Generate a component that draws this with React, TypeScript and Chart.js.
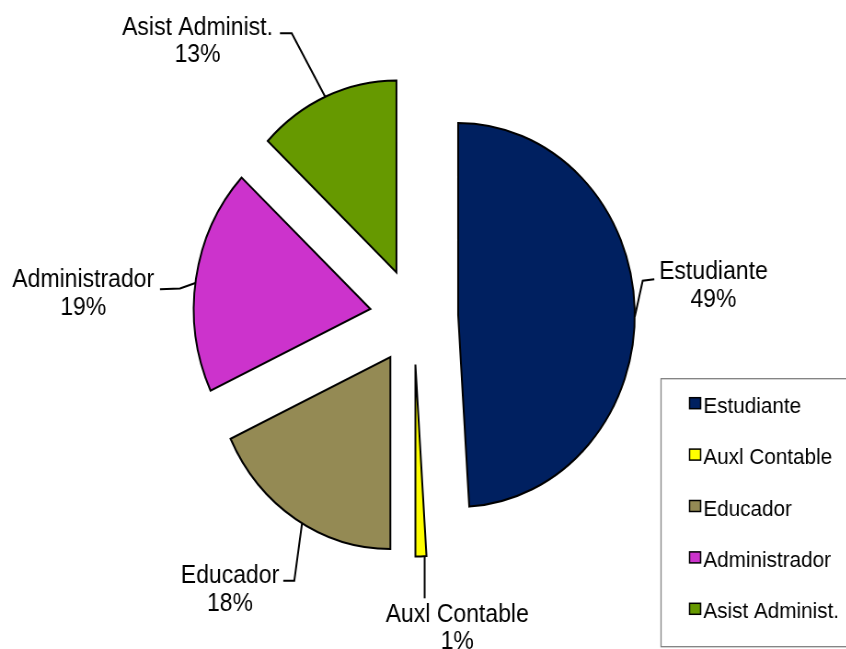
import React, { useEffect, useRef } from "react";
import { Chart, registerables } from "chart.js";

Chart.register(...registerables);

// ---------- data ----------
const categories = ["Estudiante", "Auxl Contable", "Educador", "Administrador", "Asist Administ."];
const shares = [49, 1, 18, 19, 13];
const sliceColors = ["#002060", "#FFFF00", "#948A54", "#CC33CC", "#669900"];

// ---------- styling / layout ----------
const SCALE_X = 0.92; // original picture is horizontally compressed
const CANVAS_W = 920;
const CANVAS_H = 649;
const RADIUS = 192;
const EXPLODE = 48;
const FONT = '"Liberation Sans", Arial, sans-serif';
const LABEL_FONT_SIZE = 25;
const LABEL_LINE = 27.5;
const LEGEND_FONT_SIZE = 22.5;

// leader-line layout for each slice label: angle on the arc (deg, clockwise from 12 o'clock)
// and offsets relative to that arc point
const leaderAngles = [90.5, 177, 210, 277.8, 336.2];
const leaderElbows = [[8.6, -36], [0, 42], [-8.4, 57.4], [-16.7, 5.6], [-36.4, -63.5]];
const leaderEnds = [[21.2, -37.4], [0, 42.1], [-20.4, 57.4], [-38.5, 6.4], [-49.2, -63.5]];
const labelOffsets = [[85.5, -37.4], [35.4, 65.5], [-78.3, 60], [-121.9, 4.4], [-138.8, -61.8]];

const explodePlugin = {
  id: "explodeSlices",
  afterDatasetUpdate(chart: any, args: any) {
    const area = chart.chartArea;
    const cx = (area.left + area.right) / 2;
    const cy = (area.top + area.bottom) / 2;
    const meta = chart.getDatasetMeta(args.index);
    meta.data.forEach((el: any) => {
      const mid = (el.startAngle + el.endAngle) / 2;
      el.x = cx + Math.cos(mid) * EXPLODE;
      el.y = cy + Math.sin(mid) * EXPLODE;
    });
  },
};

const labelPlugin = {
  id: "sliceLabels",
  afterDatasetsDraw(chart: any) {
    const ctx = chart.ctx;
    const meta = chart.getDatasetMeta(0);
    const data = chart.data.datasets[0].data as number[];
    const total = data.reduce((a, b) => a + b, 0);
    ctx.save();
    meta.data.forEach((el: any, i: number) => {
      const theta = ((leaderAngles[i] - 90) * Math.PI) / 180;
      const px = el.x + Math.cos(theta) * el.outerRadius;
      const py = el.y + Math.sin(theta) * el.outerRadius;
      ctx.strokeStyle = "#000";
      ctx.lineWidth = 2;
      ctx.lineJoin = "miter";
      ctx.beginPath();
      ctx.moveTo(px, py);
      ctx.lineTo(px + leaderElbows[i][0], py + leaderElbows[i][1]);
      ctx.lineTo(px + leaderEnds[i][0], py + leaderEnds[i][1]);
      ctx.stroke();
      const tx = px + labelOffsets[i][0];
      const ty = py + labelOffsets[i][1];
      ctx.fillStyle = "#000";
      ctx.font = `${LABEL_FONT_SIZE}px ${FONT}`;
      ctx.textAlign = "center";
      ctx.textBaseline = "alphabetic";
      ctx.fillText(chart.data.labels[i], tx, ty);
      const pct = Math.round((data[i] / total) * 100);
      ctx.fillText(`${pct}%`, tx, ty + LABEL_LINE);
    });
    ctx.restore();
  },
};

const legendPlugin = {
  id: "boxLegend",
  afterDraw(chart: any) {
    const ctx = chart.ctx;
    const boxLeft = 718.5;
    const boxTop = 378.7;
    const boxBottom = 646.7;
    const firstBaseline = 412.7;
    const step = 51.4;
    ctx.save();
    ctx.strokeStyle = "#7f7f7f";
    ctx.lineWidth = 1.3;
    ctx.strokeRect(boxLeft, boxTop, CANVAS_W + 20 - boxLeft, boxBottom - boxTop);
    ctx.font = `${LEGEND_FONT_SIZE}px ${FONT}`;
    ctx.textAlign = "left";
    ctx.textBaseline = "alphabetic";
    (chart.data.labels as string[]).forEach((lab, i) => {
      const base = firstBaseline + i * step;
      const color = chart.data.datasets[0].backgroundColor[i];
      ctx.fillStyle = color;
      ctx.fillRect(749.5, base - 15, 12, 11);
      ctx.strokeStyle = "#000";
      ctx.lineWidth = 1.5;
      ctx.strokeRect(749.5, base - 15, 12, 11);
      ctx.fillStyle = "#000";
      ctx.fillText(lab, 764.5, base);
    });
    ctx.restore();
  },
};

export default function App() {
  const ref = useRef<HTMLCanvasElement | null>(null);
  useEffect(() => {
    if (!ref.current) return;
    const chart = new Chart(ref.current, {
      type: "pie",
      data: {
        labels: categories,
        datasets: [
          {
            data: shares,
            backgroundColor: sliceColors,
            borderColor: "#000",
            borderWidth: 2,
            borderJoinStyle: "miter",
            radius: RADIUS,
            clip: false,
          } as any,
        ],
      },
      options: {
        animation: false,
        responsive: false,
        maintainAspectRatio: false,
        devicePixelRatio: 1,
        layout: { padding: { left: 0, right: 20, top: 0, bottom: 16 } },
        plugins: {
          legend: { display: false },
          tooltip: { enabled: false },
        },
      } as any,
      plugins: [explodePlugin, labelPlugin, legendPlugin],
    });
    return () => chart.destroy();
  }, []);

  return (
    <div style={{ position: "fixed", left: 0, top: 0, width: 846, height: 649, overflow: "hidden", background: "#fff" }}>
      <div style={{ width: CANVAS_W, height: CANVAS_H, transform: `scaleX(${SCALE_X})`, transformOrigin: "0 0" }}>
        <canvas ref={ref} width={CANVAS_W} height={CANVAS_H} style={{ display: "block" }} />
      </div>
    </div>
  );
}
